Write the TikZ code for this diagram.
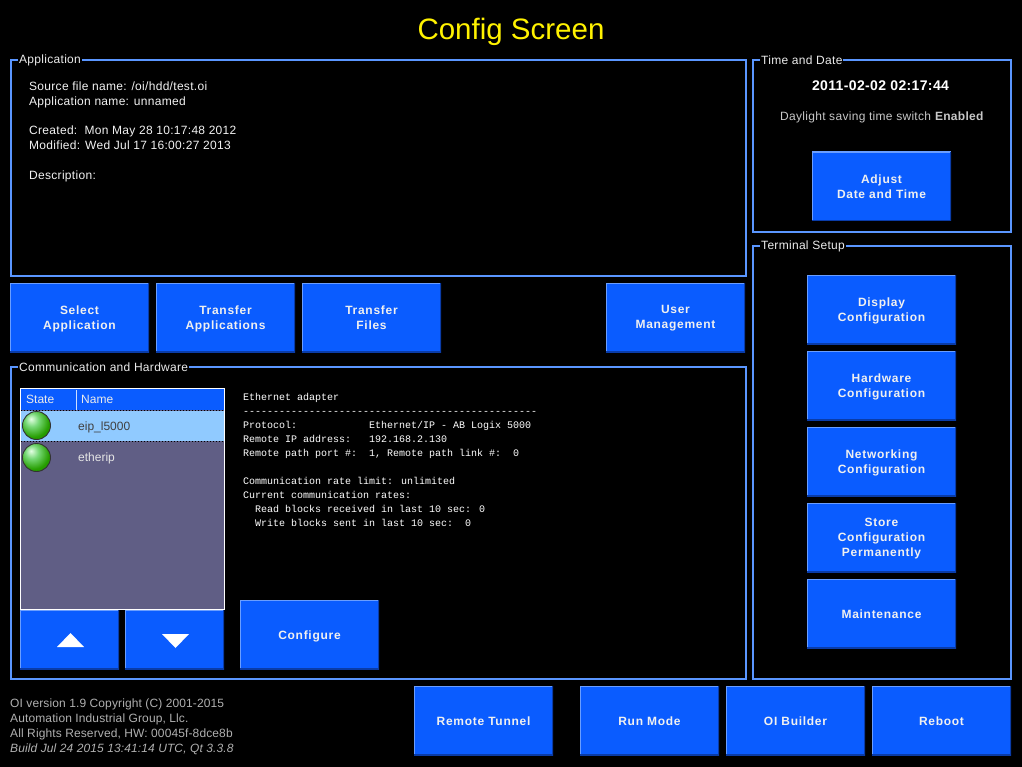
\documentclass[tikz,border=0pt]{standalone}
\usepackage{fontspec}
\setmainfont{Liberation Sans}
\newfontfamily\termfont{Liberation Mono}
\newfontfamily\btnfont[LetterSpace=6]{Liberation Sans}
\newfontfamily\infofont[LetterSpace=2.5]{Liberation Sans}
\newfontfamily\clockfont[LetterSpace=2.6]{Liberation Sans}
\newfontfamily\versionfont[LetterSpace=1]{Liberation Sans}
\definecolor{framecol}{HTML}{5A96FF}
\definecolor{btnblue}{HTML}{0A5CFF}
\definecolor{btnlight}{HTML}{6A9EFF}
\definecolor{btndark}{HTML}{0A3CA8}
\definecolor{rowsel}{HTML}{90CAFF}
\definecolor{rowbg}{HTML}{605E85}
\definecolor{oigray}{HTML}{B0B0B0}
\pgfdeclareradialshading{ledball}{\pgfpoint{-10bp}{12bp}}{
  color(0bp)=(green!10!white);
  color(12bp)=(green!45!white!85!black);
  color(28bp)=(green!55!black!85!yellow);
  color(50bp)=(green!50!black!90!yellow);
  color(70bp)=(green!35!black)}
\tikzset{
  button/.style={fill=btnblue,inner sep=0pt,minimum width=139pt,minimum height=69pt,
    align=center,text=white!94!black,font=\btnfont\bfseries\fontsize{12}{15}\selectfont,
    execute at begin node=\strut,execute at end node=\strut,text depth=0.5pt,
    path picture={
      \draw[btnlight,line width=2pt] (path picture bounding box.south west) -- (path picture bounding box.north west) -- (path picture bounding box.north east);
      \draw[btndark,line width=2pt] (path picture bounding box.south west) -- (path picture bounding box.south east) -- (path picture bounding box.north east);
    }},
  groupbox/.style={draw=framecol,line width=1.7pt},
  grouplabel/.style={fill=black,text=white!92!black,anchor=west,inner xsep=1pt,inner ysep=0pt,
    font=\infofont\fontsize{12}{14}\selectfont},
  infotext/.style={text=white!95!black,anchor=north west,inner sep=0pt,align=left,
    font=\infofont\fontsize{12}{14.8}\selectfont},
  termtext/.style={text=white,anchor=north west,inner sep=0pt,align=left,
    font=\termfont\fontsize{10}{14}\selectfont},
  led/.style={circle,draw=black!80,line width=0.9pt,minimum size=28pt,inner sep=0pt,shading=ledball},
  rowtext/.style={anchor=west,inner sep=0pt,font=\fontsize{12}{14}\selectfont},
}
\begin{document}
\begin{tikzpicture}[x=1pt,y=-1pt]
  \useasboundingbox (0,0) rectangle (1022,767);
  \fill[black] (0,0) rectangle (1022,767);
  \node[text=yellow,font=\fontsize{29.5}{34}\selectfont] (title) at (511,32) {Config Screen};

  \draw[groupbox] (11,60) rectangle (746,276);
  \node[grouplabel] (applabel) at (18,60) {Application};
  \node[infotext] (appinfo) at (29,81.5) {Source file name: /oi/hdd/test.oi\\Application name: unnamed\\~\\Created:~~Mon May 28 10:17:48 2012\\Modified: Wed Jul 17 16:00:27 2013\\~\\Description:};

  \draw[groupbox] (753,60) rectangle (1011,232);
  \node[grouplabel] (timelabel) at (760,60) {Time and Date};
  \node[text=white,font=\clockfont\bfseries\fontsize{14}{16}\selectfont,inner sep=0pt] (clock) at (880.5,86) {2011-02-02 02:17:44};
  \node[text=white!78!black,inner sep=0pt,font=\infofont\fontsize{12}{14}\selectfont] (dst) at (882,117) {Daylight saving time switch \textbf{Enabled}};
  \node[button] (adjust) at (881.5,186.5) {Adjust\\Date and Time};

  \draw[groupbox] (753,246) rectangle (1011,679);
  \node[grouplabel] (termlabel) at (760,246) {Terminal Setup};
  \node[button,minimum width=149pt] (display) at (881.5,309.5) {Display\\Configuration};
  \node[button,minimum width=149pt] (hardware) at (881.5,385.5) {Hardware\\Configuration};
  \node[button,minimum width=149pt] (network) at (881.5,461.5) {Networking\\Configuration};
  \node[button,minimum width=149pt] (store) at (881.5,537.5) {Store\\Configuration\\Permanently};
  \node[button,minimum width=149pt] (maint) at (881.5,613.5) {Maintenance};

  \node[button] (select) at (79.5,317.5) {Select\\Application};
  \node[button] (transapp) at (225.5,317.5) {Transfer\\Applications};
  \node[button] (transfile) at (371.5,317.5) {Transfer\\Files};
  \node[button] (usermgmt) at (675.5,317.5) {User\\Management};

  \draw[groupbox] (11,367) rectangle (746,679);
  \node[grouplabel] (commlabel) at (18,367) {Communication and Hardware};

  \fill[rowbg] (21,389) rectangle (224,609);
  \fill[btnblue] (21,389) rectangle (224,410);
  \fill[rowsel] (21,411) rectangle (224,441);
  \draw[black,line width=1pt,dotted] (21,410.5) -- (224,410.5);
  \draw[black,line width=1pt,dotted] (21,441) -- (224,441);
  \draw[white!80!btnblue,line width=1pt] (76.5,390) -- (76.5,410);
  \draw[white,line width=1.2pt] (20.5,388.5) rectangle (224.5,609.5);
  \node[rowtext,text=white!92!black] (statehead) at (26,399) {State};
  \node[rowtext,text=white!92!black] (namehead) at (81,399) {Name};
  \node[led] (led1) at (36.5,425.5) {};
  \node[rowtext,text=black!75] (row1) at (78,427.5) {eip\_l5000};
  \node[led] (led2) at (36.5,457.5) {};
  \node[rowtext,text=white!90!black] (row2) at (78,458) {etherip};

  \node[termtext] (adapter) at (243,393) {Ethernet adapter\\
-------------------------------------------------\\
Protocol:~~~~~~~~~~~~Ethernet/IP - AB Logix 5000\\
Remote IP address:~~~192.168.2.130\\
Remote path port \#:~~1, Remote path link \#:~~0\\
~\\
Communication rate limit: unlimited\\
Current communication rates:\\
~~Read blocks received in last 10 sec: 0\\
~~Write blocks sent in last 10 sec:~~0};

  \node[button,minimum width=99pt,minimum height=59pt] (up) at (69.5,639.5) {};
  \node[button,minimum width=99pt,minimum height=59pt] (down) at (174.5,639.5) {};
  \fill[white] (57,647) -- (70.5,633) -- (84,647) -- cycle;
  \fill[white] (162,634) -- (175.5,648) -- (189,634) -- cycle;
  \node[button] (configure) at (309.5,634.5) {Configure};

  \node[text=oigray,anchor=north west,inner sep=0pt,align=left,font=\versionfont\fontsize{12}{15}\selectfont] (version) at (10,699) {OI version 1.9 Copyright (C) 2001-2015\\Automation Industrial Group, Llc.\\All Rights Reserved, HW: 00045f-8dce8b\\\textit{Build Jul 24 2015 13:41:14 UTC, Qt 3.3.8}};

  \node[button] (tunnel) at (483.5,720.5) {Remote Tunnel};
  \node[button] (runmode) at (649.5,720.5) {Run Mode};
  \node[button] (builder) at (795.5,720.5) {OI Builder};
  \node[button] (reboot) at (941.5,720.5) {Reboot};
\end{tikzpicture}
\end{document}
